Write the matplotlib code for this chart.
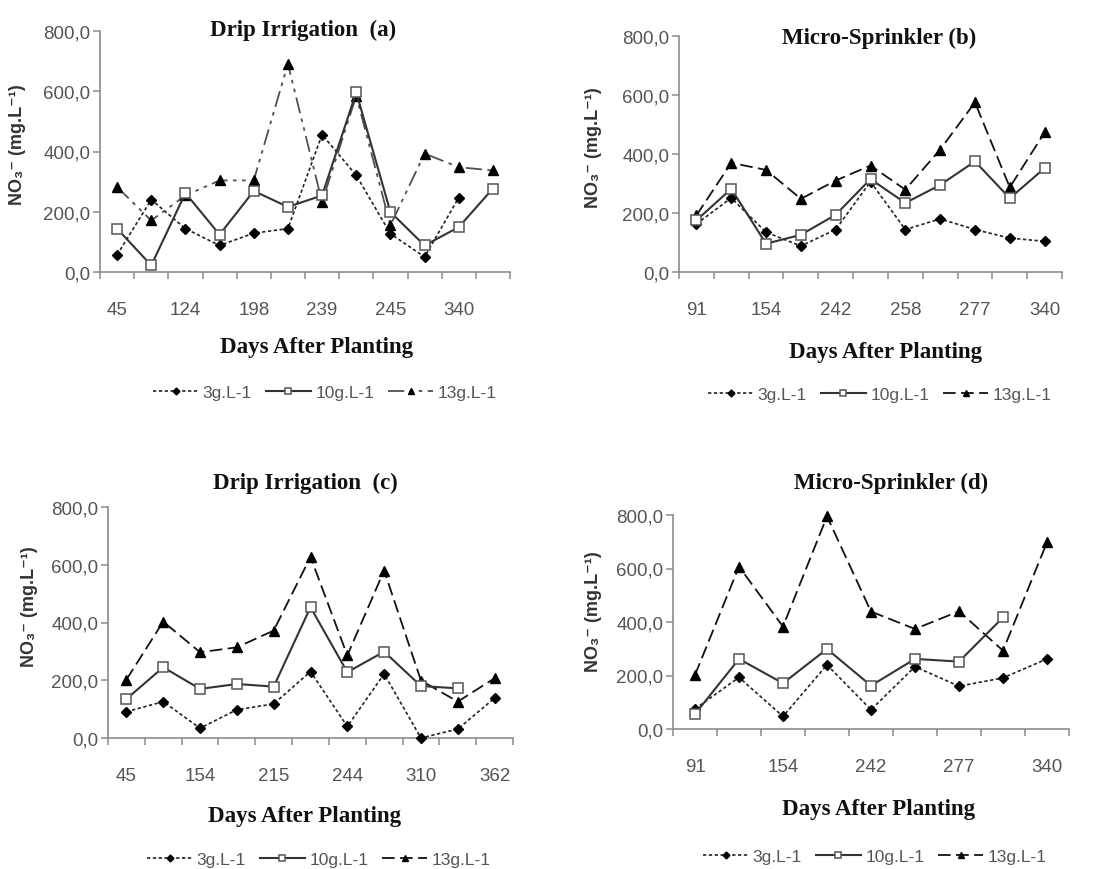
import numpy as np
import matplotlib
matplotlib.use("Agg")
import matplotlib.pyplot as plt

nan = np.nan

# ---------------- data ----------------
labels_a = ["45", "", "124", "", "198", "", "239", "", "245", "", "340", ""]
a_3g  = [57, 240, 144, 88, 129, 144, 456, 321, 127, 50, 247, nan]
a_10g = [144, 22, 262, 124, 269, 216, 254, 597, 199, 88, 149, 277]
a_13g = [282, 171, 254, 304, 304, 691, 232, 585, 155, 393, 348, 337]

labels_b = ["91", "", "154", "", "242", "", "258", "", "277", "", "340"]
b_3g  = [163, 251, 135, 88, 144, 306, 144, 180, 144, 115, 104]
b_10g = [175, 282, 96, 126, 194, 315, 234, 295, 375, 250, 352]
b_13g = [192, 370, 346, 248, 310, 361, 279, 415, 575, 287, 473]

labels_c = ["45", "", "154", "", "215", "", "244", "", "310", "", "362"]
c_3g  = [91, 126, 34, 98, 118, 230, 40, 222, 0, 31, 138]
c_10g = [135, 245, 170, 187, 178, 453, 228, 299, 180, 172, nan]
c_13g = [202, 403, 297, 314, 372, 627, 286, 580, 199, 126, 207]

labels_d = ["91", "", "154", "", "242", "", "277", "", "340"]
d_3g  = [75, 193, 47, 240, 72, 233, 160, 191, 262]
d_10g = [56, 262, 171, 299, 162, 262, 252, 417, nan]
d_13g = [202, 607, 383, 795, 439, 374, 440, 293, 698]

series_names = ["3g.L-1", "10g.L-1", "13g.L-1"]
titles = ["Drip Irrigation  (a)", "Micro-Sprinkler (b)", "Drip Irrigation  (c)", "Micro-Sprinkler (d)"]
yticks = [0, 200, 400, 600, 800]
ytick_labels = ["0,0", "200,0", "400,0", "600,0", "800,0"]
ylabel_text = "NO\u2083\u207b (mg.L\u207b\u00b9)"
xlabel_text = "Days After Planting"

# ---------------- layout ----------------
W, H = 1093, 870
fig = plt.figure(figsize=(W / 100, H / 100), dpi=100)

NUM_FONT = ["Liberation Sans", "DejaVu Sans"]
SERIF = ["Liberation Serif", "DejaVu Serif"]
GRAY_TXT = "#555555"
GRAY_AX = "#8c8c8c"

def px_axes(left, right, top, bottom):
    return fig.add_axes([left / W, (H - bottom) / H, (right - left) / W, (bottom - top) / H])

panels = [
    dict(box=(100, 510, 32, 273), labels=labels_a, data=(a_3g, a_10g, a_13g),
         title=(303, 30), xlab=(317, 348), ylab=(18, 145), leg=(325, 393), dash13=(9, 3, 2, 3, 2, 3), c13="#505050"),
    dict(box=(679, 1062, 37, 273), labels=labels_b, data=(b_3g, b_10g, b_13g),
         title=(879, 38), xlab=(886, 353), ylab=(593, 148), leg=(880, 395), dash13=(7, 3), c13="#111111"),
    dict(box=(108, 513, 508, 739), labels=labels_c, data=(c_3g, c_10g, c_13g),
         title=(305, 483), xlab=(305, 817), ylab=(30, 607), leg=(319, 860), dash13=(7, 3), c13="#111111"),
    dict(box=(673, 1069, 516, 730), labels=labels_d, data=(d_3g, d_10g, d_13g),
         title=(891, 483), xlab=(879, 810), ylab=(593, 612), leg=(875, 857), dash13=(7, 3), c13="#111111"),
]

for i, p in enumerate(panels):
    ax = px_axes(*p["box"])
    labs = p["labels"]
    n = len(labs)
    x = np.arange(n)
    s3, s10, s13 = p["data"]

    l3, = ax.plot(x, s3, linestyle=(0, (2, 1.5)), color="#222222", lw=1.2,
                  marker="D", ms=5, mfc="black", mec="black", clip_on=False, zorder=3)
    l10, = ax.plot(x, s10, linestyle="-", color="#333333", lw=1.5,
                   marker="s", ms=7, mfc="white", mec="#555555", mew=1.1, clip_on=False, zorder=4)
    l13, = ax.plot(x, s13, linestyle=(0, p["dash13"]), color=p["c13"], lw=1.3,
                   marker="^", ms=6.5, mfc="black", mec="black", clip_on=False, zorder=3)

    ax.set_xlim(-0.5, n - 0.5)
    ax.set_ylim(0, 800)
    for side in ("top", "right"):
        ax.spines[side].set_visible(False)
    for side in ("left", "bottom"):
        ax.spines[side].set_color(GRAY_AX)
        ax.spines[side].set_linewidth(1.2)

    ax.set_xticks(np.arange(n + 1) - 0.5)
    ax.set_xticklabels([])
    ax.tick_params(axis="x", which="major", direction="out", length=5, width=1.1, color=GRAY_AX)
    ax.set_xticks(x, minor=True)
    ax.set_xticklabels(labs, minor=True, fontsize=13.5, color=GRAY_TXT, family=NUM_FONT)
    ax.tick_params(axis="x", which="minor", length=0, pad=21)

    ax.set_yticks(yticks)
    ax.set_yticklabels(ytick_labels, fontsize=13.5, color=GRAY_TXT, family=NUM_FONT)
    ax.tick_params(axis="y", direction="out", length=5, width=1.1, color=GRAY_AX, pad=2)

    tx, ty = p["title"]
    fig.text(tx / W, 1 - ty / H, titles[i], ha="center", va="center",
             fontsize=16.5, fontweight="bold", family=SERIF, color="#111111")
    xx, xy = p["xlab"]
    fig.text(xx / W, 1 - xy / H, xlabel_text, ha="center", va="center",
             fontsize=16.5, fontweight="bold", family=SERIF, color="#111111")
    yx, yy = p["ylab"]
    fig.text(yx / W, 1 - yy / H, ylabel_text, ha="center", va="center",
             rotation=90, fontsize=13, fontweight="bold", family=["Liberation Sans", "DejaVu Sans"],
             color="#333333")

    lx, ly = p["leg"]
    fig.legend([l3, l10, l13], series_names, loc="center", bbox_to_anchor=(lx / W, 1 - ly / H),
               ncol=3, frameon=False, handlelength=2.6, handletextpad=0.25, columnspacing=0.8,
               prop=dict(family=NUM_FONT, size=12.5), labelcolor=GRAY_TXT, markerscale=0.7)

fig.savefig("out.png", dpi=100, facecolor="white")
